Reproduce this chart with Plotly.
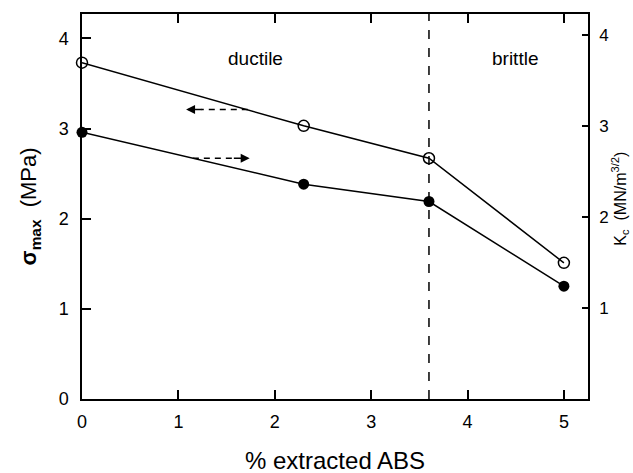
import plotly.graph_objects as go

# % extracted ABS
abs_pct = [0, 2.3, 3.6, 5]
# sigma_max (MPa), left axis, open circles
sigma_max = [3.73, 3.03, 2.67, 1.51]
# K_c (MN/m^3/2), right axis, filled circles
k_c = [2.93, 2.36, 2.17, 1.24]

x_ticks = [0, 1, 2, 3, 4, 5]
y_ticks = [0, 1, 2, 3, 4]
k_ticks = [1, 2, 3, 4]
transition = 3.6

font = "Liberation Sans, Arial, sans-serif"

fig = go.Figure()
fig.add_trace(go.Scatter(
    x=abs_pct, y=sigma_max, mode="lines+markers",
    line=dict(color="black", width=1.5),
    marker=dict(symbol="circle-open", size=11, color="black", line=dict(width=1.5)),
    cliponaxis=False, showlegend=False,
))
fig.add_trace(go.Scatter(
    x=abs_pct, y=k_c, mode="lines+markers", yaxis="y2",
    line=dict(color="black", width=1.5),
    marker=dict(symbol="circle", size=11, color="black"),
    cliponaxis=False, showlegend=False,
))

# ductile / brittle boundary
fig.add_vline(x=transition, line=dict(color="black", width=1.5, dash="dash"))

# dashed arrows telling which axis each curve belongs to
fig.add_shape(type="line", x0=1.72, x1=1.24, y0=3.21, y1=3.21,
              line=dict(color="black", width=1.5, dash="6px,5px"))
fig.add_annotation(x=1.08, y=3.21, ax=1.26, ay=3.21, axref="x", ayref="y",
                   showarrow=True, arrowhead=2, arrowsize=1.2, arrowwidth=1.5,
                   arrowcolor="black", text="")
fig.add_shape(type="line", x0=1.15, x1=1.58, y0=2.67, y1=2.67,
              line=dict(color="black", width=1.5, dash="6px,5px"))
fig.add_annotation(x=1.74, y=2.67, ax=1.56, ay=2.67, axref="x", ayref="y",
                   showarrow=True, arrowhead=2, arrowsize=1.2, arrowwidth=1.5,
                   arrowcolor="black", text="")

fig.add_annotation(x=1.8, y=3.78, text="ductile", showarrow=False,
                   font=dict(size=19, family=font, color="black"))
fig.add_annotation(x=4.49, y=3.78, text="brittle", showarrow=False,
                   font=dict(size=19, family=font, color="black"))

# axis titles as paper annotations, centred on their positions
fig.add_annotation(x=0.5, y=-0.16, xref="paper", yref="paper",
                   xanchor="center", yanchor="middle",
                   text="% extracted ABS", showarrow=False,
                   font=dict(size=24, family=font, color="black"))
fig.add_annotation(x=-0.103, y=0.5, xref="paper", yref="paper", textangle=-90,
                   xanchor="center", yanchor="middle",
                   text="<b>σ<sub>max</sub></b>  (MPa)", showarrow=False,
                   font=dict(size=22, family=font, color="black"))
fig.add_annotation(x=1.063, y=0.52, xref="paper", yref="paper", textangle=-90,
                   xanchor="center", yanchor="middle",
                   text="K<sub>c</sub>  (MN/m<sup>3/2</sup>)", showarrow=False,
                   font=dict(size=16, family=font, color="black"))

fig.update_layout(
    width=633, height=473,
    margin=dict(l=82, r=45, t=14, b=74),
    plot_bgcolor="white", paper_bgcolor="white",
    font=dict(family=font, color="black", size=18),
    xaxis=dict(
        range=[0, 5.25], tickvals=x_ticks, ticks="inside", ticklen=9,
        tickwidth=1.5, tickcolor="black", showline=True, linecolor="black",
        linewidth=1.5, mirror="ticks", showgrid=False, zeroline=False,
        automargin=False, tickfont=dict(size=18), ticklabelstandoff=6,
    ),
    yaxis=dict(
        range=[0, 4.27], tickvals=y_ticks, ticks="inside", ticklen=9,
        tickwidth=1.5, tickcolor="black", showline=True, linecolor="black",
        linewidth=1.5, showgrid=False, zeroline=False, automargin=False,
        tickfont=dict(size=18), ticklabelstandoff=8,
    ),
    yaxis2=dict(
        overlaying="y", side="right", range=[0, 4.23], tickvals=k_ticks,
        ticks="inside", ticklen=6, tickwidth=1.5, tickcolor="black",
        showline=True, linecolor="black", linewidth=1.5, showgrid=False,
        zeroline=False, automargin=False, tickfont=dict(size=17),
        ticklabelstandoff=6,
    ),
)

# drop the page's default 8px body margin so the figure fills the window
fig.write_html("out.html", config={"displayModeBar": False},
               post_script="document.body.style.margin='0';")
